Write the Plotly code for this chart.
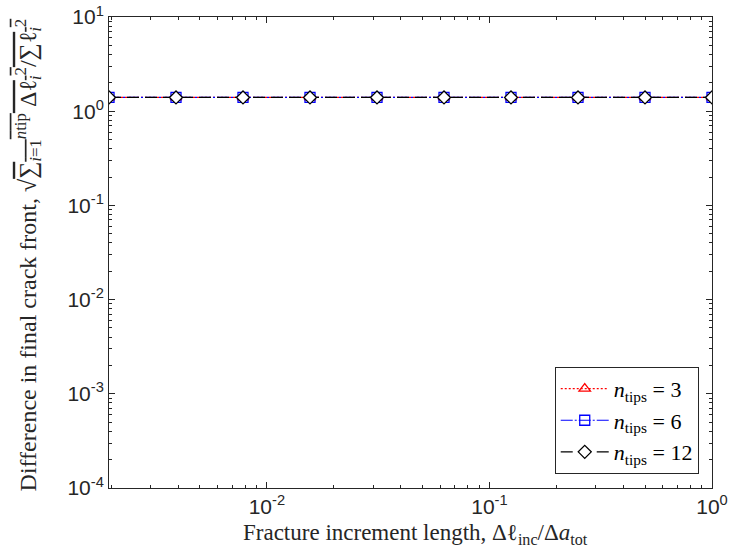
import numpy as np
import plotly.graph_objects as go

# ---- data ----
x_vals = [1/512, 1/256, 1/128, 1/64, 1/32, 1/16, 1/8, 1/4, 1/2, 1.0]
y_n3 = [1.40, 1.40, 1.40, 1.40, 1.40, 1.40, 1.40, 1.40, 1.40, 1.40]
y_n6 = [1.40, 1.40, 1.40, 1.40, 1.40, 1.40, 1.40, 1.40, 1.40, 1.40]
y_n12 = [1.40, 1.40, 1.40, 1.40, 1.40, 1.40, 1.40, 1.40, 1.40, 1.40]

x_major = [1e-2, 1e-1, 1e0]
x_major_text = ["10<sup>-2</sup>", "10<sup>-1</sup>", "10<sup>0</sup>"]
y_major = [1e-4, 1e-3, 1e-2, 1e-1, 1e0, 1e1]
y_major_text = ["10<sup>-4</sup>", "10<sup>-3</sup>", "10<sup>-2</sup>",
                "10<sup>-1</sup>", "10<sup>0</sup>", "10<sup>1</sup>"]

x_minor = [m * 10.0**k for k in range(-3, 0) for m in range(2, 10)]
y_minor = [m * 10.0**k for k in range(-4, 1) for m in range(2, 10)]

x_title = "Fracture increment length, Δℓ<sub>inc</sub>/Δ<i>a</i><sub>tot</sub>"
y_title = ("Difference in final crack front, √<span style='text-decoration:overline'>"
           "∑<sub><i>i</i>=1</sub><sup><i>n</i>tip</sup> Δℓ<sub><i>i</i></sub><sup>2</sup>"
           "/∑ℓ<sub><i>i</i></sub><sup>2</sup></span>")

serif = "Liberation Serif, DejaVu Serif, serif"
sans = "Liberation Sans, Arial, Helvetica, sans-serif"
axcol = "#262626"

fig = go.Figure()
fig.add_trace(go.Scatter(
    x=x_vals, y=y_n3, mode="lines+markers",
    name="<i>n</i><sub>tips</sub> = 3",
    line=dict(color="red", dash="2px,2px", width=1.2),
    marker=dict(symbol="triangle-up-open", size=10, color="red", line=dict(width=1.3)),
))
fig.add_trace(go.Scatter(
    x=x_vals, y=y_n6, mode="lines+markers",
    name="<i>n</i><sub>tips</sub> = 6",
    line=dict(color="blue", dash="12px,2px,2px,2px", width=1.2),
    marker=dict(symbol="square-open", size=10, color="blue", line=dict(width=1.3)),
))
fig.add_trace(go.Scatter(
    x=x_vals, y=y_n12, mode="lines+markers",
    name="<i>n</i><sub>tips</sub> = 12",
    line=dict(color="black", dash="12px,6px", width=1.2),
    marker=dict(symbol="diamond", size=10, color="white", line=dict(color="black", width=1.3)),
))

fig.update_layout(
    width=731, height=559,
    margin=dict(l=109, r=19, t=17, b=71),
    paper_bgcolor="white", plot_bgcolor="white",
    showlegend=True,
    legend=dict(
        x=0.978, y=0.030, xanchor="right", yanchor="bottom",
        bordercolor="#262626", borderwidth=1, bgcolor="white",
        font=dict(family=serif, size=22, color="black"),
        tracegroupgap=0, itemwidth=48,
    ),
    xaxis=dict(
        type="log", range=[np.log10(x_vals[0]), 0], automargin=False,
        tickvals=x_major, ticktext=x_major_text, ticklabeloverflow="allow",
        ticks="inside", ticklen=6, tickcolor=axcol,
        showline=True, linecolor=axcol, linewidth=1, mirror="ticks",
        showgrid=False, zeroline=False,
        tickfont=dict(family=sans, size=21, color=axcol),
        minor=dict(tickvals=x_minor, ticks="inside", ticklen=3, tickcolor=axcol, showgrid=False),
    ),
    yaxis=dict(
        type="log", range=[-4, 1], automargin=False,
        tickvals=y_major, ticktext=y_major_text, ticklabeloverflow="allow",
        ticks="inside", ticklen=6, tickcolor=axcol,
        showline=True, linecolor=axcol, linewidth=1, mirror="ticks",
        showgrid=False, zeroline=False,
        tickfont=dict(family=sans, size=21, color=axcol),
        minor=dict(tickvals=y_minor, ticks="inside", ticklen=3, tickcolor=axcol, showgrid=False),
    ),
    annotations=[
        dict(text=x_title, xref="paper", yref="paper", x=0.509, y=-0.098,
             xanchor="center", yanchor="middle", showarrow=False,
             font=dict(family=serif, size=23, color=axcol)),
        dict(text=y_title, xref="paper", yref="paper", x=-0.135, y=0.495,
             xanchor="center", yanchor="middle", showarrow=False, textangle=-90,
             font=dict(family=serif, size=24, color=axcol)),
    ],
)

# remove the browser's default 8px body margin so the figure sits at the page origin
fig.write_html("out.html", config={"displayModeBar": False},
               post_script="document.body.style.margin='0px';")
